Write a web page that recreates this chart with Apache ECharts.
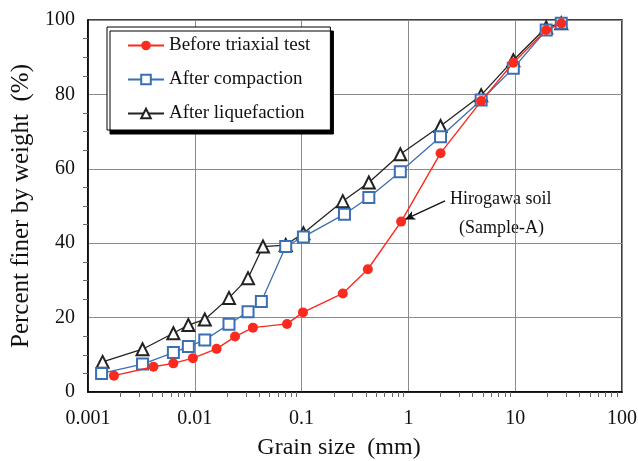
<!DOCTYPE html>
<html>
<head>
<meta charset="utf-8">
<script src="https://cdn.jsdelivr.net/npm/echarts@6/dist/echarts.min.js"></script>
<style>html,body{margin:0;padding:0;background:#fff;}#c{width:638px;height:461px;}</style>
</head>
<body>
<div id="c"></div>
<script>
var seriesNames = ['Before triaxial test', 'After compaction', 'After liquefaction'];
var xTickLabels = ['0.001', '0.01', '0.1', '1', '10', '100'];
var yTickLabels = ['0', '20', '40', '60', '80', '100'];

var beforeSize = [0.00175, 0.0041, 0.0063, 0.0096, 0.016, 0.0238, 0.035, 0.073, 0.103, 0.243, 0.417, 0.855, 2.0, 4.8, 9.6, 19.5, 27];
var beforePct  = [4.4, 6.8, 7.7, 9.1, 11.6, 14.9, 17.3, 18.3, 21.4, 26.5, 33.0, 45.8, 64.2, 78.2, 88.5, 97.3, 99.1];

var compSize = [0.00134, 0.00324, 0.0063, 0.0087, 0.0124, 0.0209, 0.0315, 0.042, 0.071, 0.104, 0.252, 0.426, 0.84, 2.0, 4.8, 9.6, 19.5, 27];
var compPct  = [5.0, 7.5, 10.6, 12.2, 14.0, 18.2, 21.6, 24.3, 39.1, 41.7, 47.8, 52.3, 59.2, 68.6, 78.5, 87.0, 97.3, 99.1];

var liqSize = [0.00137, 0.00324, 0.0063, 0.0087, 0.0124, 0.0209, 0.0315, 0.0435, 0.071, 0.104, 0.243, 0.426, 0.84, 2.0, 4.8, 9.6, 19.5, 27];
var liqPct  = [8.1, 11.5, 15.8, 18.0, 19.5, 25.3, 30.6, 39.1, 39.5, 42.7, 51.3, 56.3, 63.9, 71.5, 79.8, 89.2, 98.0, 99.1];

var annotationLines = ['Hirogawa soil', '(Sample-A)'];
var arrowFrom = [2.2, 51.4];
var arrowTo = [0.93, 46.4];

function pairs(xs, ys) { return xs.map(function (x, i) { return [x, ys[i]]; }); }

var FONT = 'Liberation Serif';
var chart = echarts.init(document.getElementById('c'), null, { renderer: 'canvas' });
chart.setOption({
  animation: false,
  backgroundColor: '#fff',
  textStyle: { fontFamily: FONT },
  grid: { left: 88, right: 16, top: 20, bottom: 69, containLabel: false, outerBoundsMode: 'none',
    show: true, borderColor: '#000', borderWidth: 1.5, backgroundColor: 'transparent' },
  legend: {
    orient: 'vertical', left: 107, top: 27,
    padding: [9, 20, 7, 20], itemGap: 15, itemWidth: 36, itemHeight: 12,
    backgroundColor: '#fff', borderColor: '#000', borderWidth: 1,
    shadowColor: '#000', shadowBlur: 0, shadowOffsetX: 3, shadowOffsetY: 4,
    textStyle: { fontFamily: FONT, fontSize: 19, color: '#111' },
    data: seriesNames
  },
  xAxis: {
    type: 'log', logBase: 10, min: 0.001, max: 100,
    name: 'Grain size  (mm)', nameLocation: 'middle', nameGap: 44,
    nameTextStyle: { fontFamily: FONT, fontSize: 24, color: '#111', padding: [0, 32, 0, 0] },
    axisLine: { lineStyle: { color: '#000', width: 1.5 } },
    axisTick: { show: false },
    minorTick: { show: true, splitNumber: 9, length: 5, inside: true, lineStyle: { color: '#666' } },
    axisLabel: { margin: 17, fontFamily: FONT, fontSize: 20, color: '#111',
      formatter: function (v) { var i = Math.round(Math.log10(v)) + 3; return xTickLabels[i] || ''; } },
    splitLine: { show: true, lineStyle: { color: '#8a8a8a', width: 1 } }
  },
  yAxis: {
    type: 'value', min: 0, max: 100, interval: 20,
    name: 'Percent finer by weight  (%)', nameLocation: 'middle', nameGap: 44,
    nameTextStyle: { fontFamily: FONT, fontSize: 25, color: '#111' },
    axisLine: { lineStyle: { color: '#000', width: 1.5 } },
    axisTick: { show: false },
    minorTick: { show: true, splitNumber: 4, length: 5, inside: true, lineStyle: { color: '#666' } },
    axisLabel: { margin: 13, fontFamily: FONT, fontSize: 20, color: '#111',
      formatter: function (v) { return yTickLabels[Math.round(v / 20)]; } },
    splitLine: { show: true, lineStyle: { color: '#8a8a8a', width: 1 } }
  },
  series: [
    {
      name: seriesNames[2], type: 'line', data: pairs(liqSize, liqPct), z: 3,
      symbol: 'emptyTriangle', symbolSize: 12,
      itemStyle: { color: '#222', borderColor: '#222', borderWidth: 1.2 },
      lineStyle: { color: '#222', width: 1.3 }
    },
    {
      name: seriesNames[1], type: 'line', data: pairs(compSize, compPct), z: 4,
      symbol: 'emptyRect', symbolSize: 11,
      itemStyle: { color: '#3b6fb3', borderColor: '#3f7fae', borderWidth: 1.2 },
      lineStyle: { color: '#3b6fb3', width: 1.3 }
    },
    {
      name: seriesNames[0], type: 'line', data: pairs(beforeSize, beforePct), z: 5,
      symbol: 'circle', symbolSize: 10,
      itemStyle: { color: '#fa2a1e' },
      lineStyle: { color: '#fa2a1e', width: 1.4 },
      markLine: {
        silent: true, symbol: ['none', 'arrow'], symbolSize: [7, 10],
        label: { show: false },
        lineStyle: { color: '#111', width: 1.3, type: 'solid' },
        data: [[{ coord: arrowFrom }, { coord: arrowTo }]]
      }
    }
  ],
  graphic: [
    { type: 'text', left: 450, top: 190, style: { text: annotationLines[0], font: '18px "Liberation Serif"', fill: '#111' } },
    { type: 'text', left: 459, top: 219, style: { text: annotationLines[1], font: '18px "Liberation Serif"', fill: '#111' } }
  ]
});
</script>
</body>
</html>
